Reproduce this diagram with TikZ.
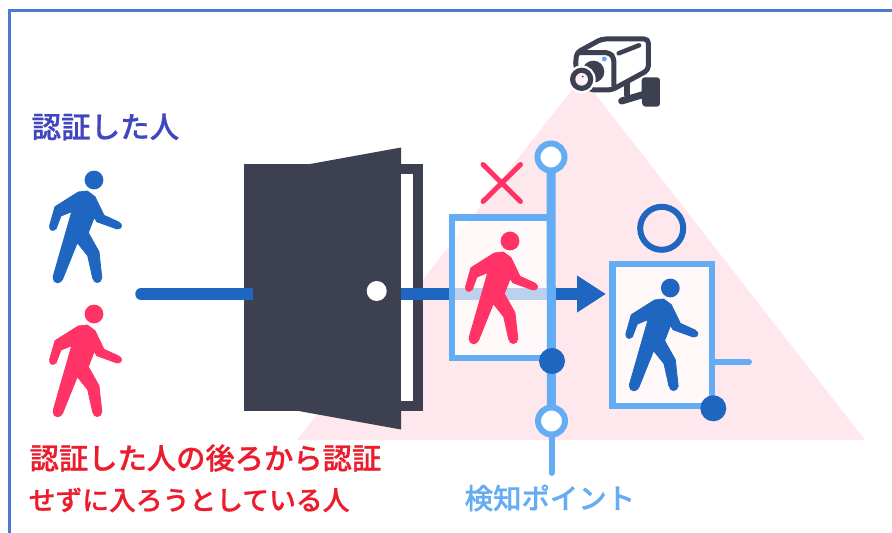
\documentclass[tikz,border=0pt]{standalone}
\usepackage{fontspec}
\newfontfamily\jp[FakeBold=0.7]{Noto Sans CJK JP Medium}
\usetikzlibrary{arrows.meta}
\definecolor{bluep}{HTML}{1F66C1}
\definecolor{redp}{HTML}{FF3366}
\definecolor{lightb}{HTML}{64ADF5}
\definecolor{doorc}{HTML}{3D4050}
\definecolor{conepink}{HTML}{FFE8ED}
\definecolor{framec}{HTML}{4A7BD0}
\definecolor{labelblue}{HTML}{4045C0}
\definecolor{labelred}{HTML}{EC1C2C}
\tikzset{
  x=1pt,y=-1pt,
  walker/.pic={
    \fill[#1] (0,0) circle (9.4);
    \fill[#1,draw=#1,line width=.8pt,line join=round]
      (-39,26.7) -- (-15.7,12) -- (-6.7,11) -- (1,16.7) -- (10,35.3) -- (25.3,42.3) -- (23,49) -- (2.7,41.7) -- (.3,37.3) -- (-5.7,52.7) -- (5,71.7) -- (7.9,98.3) -- (-1.3,98.3) -- (-6.3,75.7) -- (-16.7,62.7) -- (-31.7,100) -- (-41,97) -- (-22.3,31.7) -- (-33,36) -- (-38,49) -- (-44.5,46) -- cycle;
    \fill[#1] (-41.2,47.3) circle (3.6) (24.4,45.7) circle (3.6) (-36.3,98.3) circle (5) (3.3,98.3) circle (4.7);
  },
  hollowdot/.style={circle,draw=lightb,fill=white,line width=6pt,minimum size=27pt,inner sep=0pt},
  soliddot/.style={circle,fill=bluep,minimum size=26pt,inner sep=0pt},
  detectbox/.style={draw=lightb,fill=white,fill opacity=.7,line width=6.5pt},
  arrowbar/.style={draw=bluep,line width=11.5pt},
  lbl/.style={inner sep=0pt,anchor=west},
  cam/.style={draw=doorc,line width=5pt,line join=round},
}
\begin{document}
\begin{tikzpicture}
\path[use as bounding box,fill=white] (0,0) rectangle (892,533);
% frame
\draw[framec,line width=3pt] (892,10.5) -- (9.5,10.5) -- (9.5,533);
% cone
\fill[conepink] (582,77) -- (865,440) -- (297,440) -- cycle;
% arrow
\coordinate (arrowA) at (141,294);
\coordinate (arrowB) at (253,294);
\coordinate (arrowC) at (401,294);
\coordinate (arrowD) at (606,294);
\draw[arrowbar,line cap=round] (arrowA) -- (arrowB);
\draw[arrowbar,-{Triangle[length=29pt,width=35pt]}] (arrowC) -- (arrowD);
% door
\fill[doorc] (244,164) -- (422.7,164) -- (422.7,410.7) -- (244,410.7) -- cycle;
\fill[doorc] (310,164) -- (401,147.5) -- (401,429.5) -- (297,410.7) -- cycle;
\fill[white] (401,174) rectangle (413.3,401);
\draw[arrowbar] (arrowC) -- (450,294);
\draw[bluep,line width=11.5pt] (244,294) -- (253,294);
\node[circle,fill=white,minimum size=20pt,inner sep=0pt] (knob) at (376.7,291) {};
% detection line and left box
\coordinate (lineTop) at (551,157);
\coordinate (lineMid) at (552,361);
\coordinate (lineBot) at (551.5,421);
\coordinate (lineEnd) at (551.5,473);
\draw[detectbox] (452,217.5) rectangle (551,358);
\draw[lightb,line width=9pt] (lineTop) -- (lineBot);
\draw[lightb,line width=6pt,line cap=round] (lineBot) -- (lineEnd);
\node[hollowdot] (topdot) at (lineTop) {};
\node[hollowdot] (botdot) at (lineBot) {};
\node[soliddot] (middot) at (lineMid) {};
% right box
\coordinate (tailEnd) at (749,361.7);
\draw[lightb,line width=6pt,line cap=round] (712,361.7) -- (tailEnd);
\draw[detectbox] (612.5,264) rectangle (712,406);
\node[soliddot] (rdot) at (713.3,408.3) {};
% persons
\pic at (94,180) {walker=bluep};
\pic at (94,314) {walker=redp};
\pic at (510,241) {walker=redp};
\pic at (670.3,288) {walker=bluep};
% marks
\draw[redp,line width=5pt,line cap=round] (483,164.5) -- (520.5,201.5) (520.5,164.5) -- (483,201.5);
\node[circle,draw=bluep,line width=6pt,minimum size=43pt,inner sep=0pt] (okmark) at (661.7,228.3) {};
% camera
\begin{scope}[shift={(540,20)},x=.3333pt,y=-.3333pt]
\fill[doorc,rounded corners=3pt] (305,172) -- (360,172) -- (360,260) -- (308,260) -- (305,235) -- cycle;
\draw[doorc,line width=6pt,line cap=round] (262,190) -- (262,225);
\draw[doorc,line width=7pt,line cap=round] (245,243) -- (315,222);
\draw[cam,fill=white,rounded corners=4pt] (106,140) -- (110,98) -- (185,57) -- (325,57) -- (325,150) -- (215,210) -- (150,210) -- cycle;
\draw[cam,rounded corners=4pt] (110,98) -- (210,98) -- (222,115) -- (222,200);
\draw[doorc,line width=4.5pt,line cap=round] (236,100) -- (297,76);
\fill[lightb] (193,117) circle (7.5);
\fill[doorc] (160,155) circle (33);
\fill[white] (125,178) circle (42);
\fill[doorc] (125,178) circle (35);
\fill[conepink!60!white] (125,178) circle (19);
\fill[doorc] (128,170) circle (3);
\end{scope}
% labels
\node[lbl,text=labelblue,font=\jp\fontsize{29.5}{32}\selectfont] (authd) at (31.5,127) {認証した人};
\node[lbl,text=labelred,font=\jp\fontsize{29.3}{32}\selectfont] (tail1) at (29.5,458) {認証した人の後ろから認証};
\node[lbl,text=labelred,font=\jp\fontsize{26.8}{30}\selectfont] (tail2) at (28.5,500) {せずに入ろうとしている人};
\node[lbl,text=lightb,font=\jp\fontsize{28.4}{32}\selectfont] (detect) at (464.5,498) {検知ポイント};
\end{tikzpicture}
\end{document}
